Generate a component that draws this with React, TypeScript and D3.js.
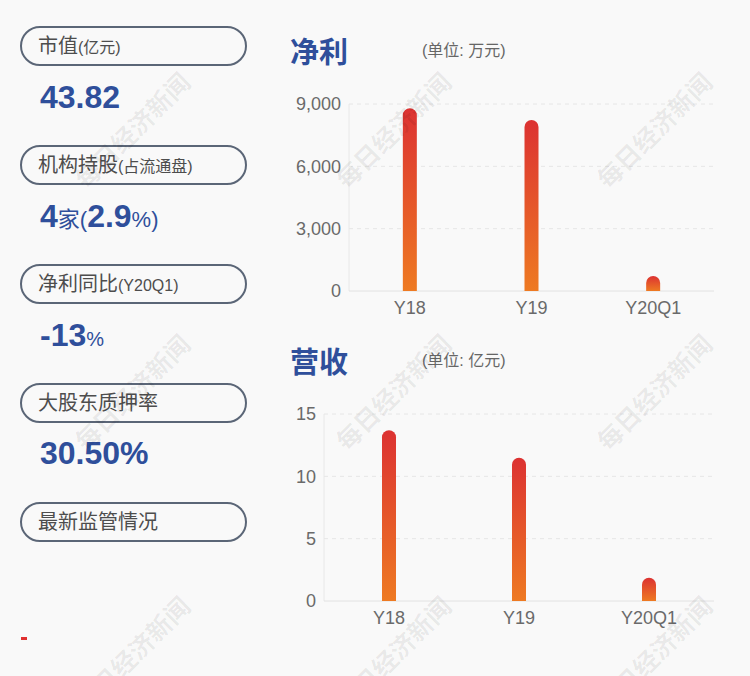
import React from 'react';
import * as d3 from 'd3';

const categories = ['Y18', 'Y19', 'Y20Q1'];
const profitValues = [8800, 8230, 720];
const profitTicks = [0, 3000, 6000, 9000];
const revenueValues = [13.7, 11.5, 1.87];
const revenueTicks = [0, 5, 10, 15];

const infoLabels = ['市值', '机构持股', '净利同比', '大股东质押率', '最新监管情况'];
const infoSubLabels = ['(亿元)', '(占流通盘)', '(Y20Q1)', '', ''];

const FONT = '"Liberation Sans", "Noto Sans CJK SC", sans-serif';
const BLUE = '#2f4f9b';

type ChartProps = {
  title: string;
  unit: string;
  values: number[];
  ticks: number[];
  left: number;
  top: number;
  right: number;
  bottom: number;
  fmt: (v: number) => string;
};

// bar with rounded top only
const barPath = (x: number, y: number, w: number, h: number, r: number) => {
  const rr = Math.min(r, h, w / 2);
  return `M${x},${y + h}V${y + rr}A${rr},${rr} 0 0 1 ${x + rr},${y}H${x + w - rr}A${rr},${rr} 0 0 1 ${x + w},${y + rr}V${y + h}Z`;
};

const BarPanel = ({title, unit, values, ticks, left, top, right, bottom, fmt}: ChartProps) => {
  const xScale = d3.scaleBand().domain(categories).range([left, right]);
  const yScale = d3.scaleLinear().domain([0, ticks[ticks.length - 1]]).range([bottom, top]);
  const bw = 14;
  return (
    <g>
      <text x={290} y={top - 41} fontSize={29} fontWeight="bold" fill={BLUE} fontFamily={FONT}>{title}</text>
      <text x={422} y={top - 48} fontSize={16} fill="#666" fontFamily={FONT}>{unit}</text>
      {ticks.map(t => (
        <g key={t}>
          {t > 0 && (
            <line x1={left} x2={right} y1={yScale(t)} y2={yScale(t)} stroke="#e6e6e6" strokeDasharray="4,4" />
          )}
          <text x={left - 8} y={yScale(t)} dy="0.35em" textAnchor="end" fontSize={18} fill="#6a6a6a" fontFamily={FONT}>{fmt(t)}</text>
        </g>
      ))}
      <line x1={left} x2={left} y1={top} y2={bottom} stroke="#e8e8e8" />
      <line x1={left} x2={right} y1={bottom} y2={bottom} stroke="#e2e2e2" />
      {categories.map((c, i) => {
        const cx = (xScale(c) as number) + xScale.bandwidth() / 2;
        const y = yScale(values[i]);
        return (
          <g key={c}>
            <path d={barPath(cx - bw / 2, y, bw, bottom - y, 7)} fill="url(#barGrad)" />
            <text x={cx} y={bottom + 23} textAnchor="middle" fontSize={18} fill="#6a6a6a" fontFamily={FONT}>{c}</text>
          </g>
        );
      })}
    </g>
  );
};

const Watermarks = () => {
  const xs = [133, 394, 655];
  const ys = [131, 393, 655];
  return (
    <g>
      {xs.map(x => ys.map(y => (
        <text key={`${x}-${y}`} x={x} y={y} transform={`rotate(-45 ${x} ${y})`} textAnchor="middle" dy="0.35em"
          fontSize={25} fontWeight="bold" fill="#000" fillOpacity={0.07} fontFamily='"Noto Sans CJK SC", sans-serif'>
          每日经济新闻
        </text>
      )))}
    </g>
  );
};

const App = () => {
  const pillTop = [27, 146, 265, 384, 503];
  return (
    <svg width={750} height={676} style={{position: 'absolute', left: 0, top: 0}}>
      <defs>
        <linearGradient id="barGrad" x1="0" y1="0" x2="0" y2="1">
          <stop offset="0%" stopColor="#dc3232" />
          <stop offset="100%" stopColor="#ee7a22" />
        </linearGradient>
      </defs>
      <rect width={750} height={676} fill="#f9f9f9" />

      {infoLabels.map((l, i) => (
        <g key={l}>
          <rect x={21} y={pillTop[i]} width={225} height={38} rx={19} fill="none" stroke="#5b6677" strokeWidth={2} />
          <text x={38} y={pillTop[i] + 26} fontSize={20} fill="#4d4d4d" fontFamily={FONT}>
            {l}
            {infoSubLabels[i] && <tspan fontSize={16}>{infoSubLabels[i]}</tspan>}
          </text>
        </g>
      ))}

      <g fill={BLUE} fontFamily={FONT} fontWeight="bold">
        <text x={40} y={108} fontSize={32}>43.82</text>
        <text x={40} y={227} fontSize={32}>4<tspan fontSize={22} fontWeight="normal">家(</tspan>2.9<tspan fontSize={22} fontWeight="normal">%)</tspan></text>
        <text x={40} y={346} fontSize={32}>-13<tspan fontSize={20} fontWeight="normal">%</tspan></text>
        <text x={40} y={464} fontSize={32}>30.50%</text>
      </g>

      <rect x={21} y={637} width={6} height={3} fill="#e03030" />

      <BarPanel title="净利" unit="(单位: 万元)" values={profitValues} ticks={profitTicks}
        left={349} right={714} top={104} bottom={291} fmt={d3.format(',')} />
      <BarPanel title="营收" unit="(单位: 亿元)" values={revenueValues} ticks={revenueTicks}
        left={324} right={714} top={414} bottom={601} fmt={d3.format('')} />

      <Watermarks />
    </svg>
  );
};

export default App;
